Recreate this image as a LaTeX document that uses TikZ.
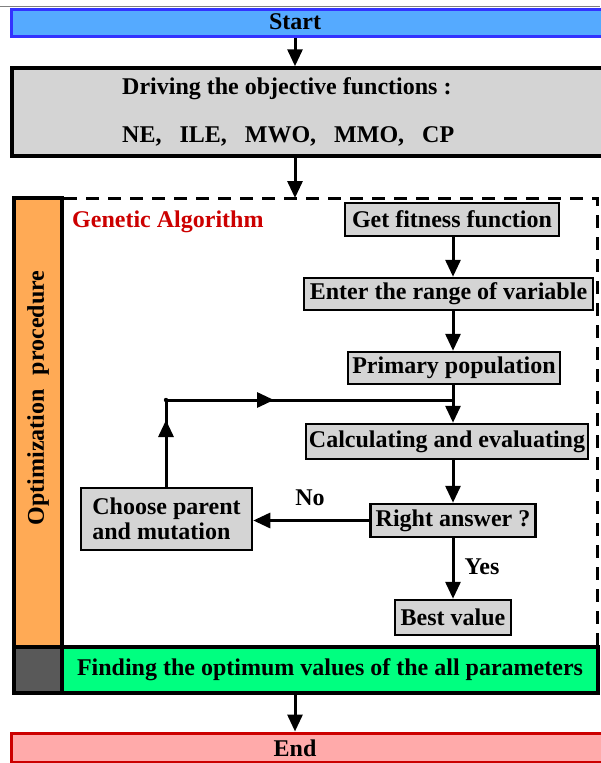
\documentclass[tikz,border=0pt]{standalone}
\usepackage{fontspec}
\setmainfont{Liberation Serif}
\usetikzlibrary{arrows.meta}
\definecolor{startfill}{HTML}{55AAFF}
\definecolor{startdraw}{HTML}{3333FF}
\definecolor{boxgray}{HTML}{D4D4D4}
\definecolor{optorange}{HTML}{FFAA55}
\definecolor{sqgray}{HTML}{595959}
\definecolor{findgreen}{HTML}{00FF80}
\definecolor{endfill}{HTML}{FFAAAA}
\definecolor{enddraw}{HTML}{CC0000}
\definecolor{garedtext}{HTML}{CC0000}
\begin{document}
\begin{tikzpicture}[x=1pt,y=-1pt,
  font=\fontsize{24}{25}\selectfont\bfseries,
  flow/.style={draw=black, line width=2.5pt, fill=boxgray, inner sep=0pt},
  bigbox/.style={draw=black, line width=3.5pt, inner sep=0pt},
  conn/.style={line width=3pt},
  arr/.style={line width=3pt, -{Triangle[length=17pt,width=15pt]}},
  lbl/.style={inner sep=0pt},
  ]
\useasboundingbox (0,0) rectangle (600,763);
\draw[gray, line width=1.5pt] (0,6.5) -- (600,6.5);

% Start
\node[draw=startdraw, fill=startfill, line width=3pt, inner sep=0pt,
  minimum width=595pt, minimum height=27pt, anchor=west] (start) at (10,22.5) {};
\node[lbl] (starttxt) at (295,22) {Start};

% Driving box
\node[bigbox, fill=boxgray, minimum width=595pt, minimum height=88pt, anchor=west] (drive) at (10,112) {};
\node[lbl, anchor=west] (drivetxt1) at (122,89) {Driving the objective functions :};
\node[lbl, anchor=west] (drivetxt2) at (122,136) {NE,\hspace{18pt}ILE,\hspace{18pt}MWO,\hspace{18pt}MMO,\hspace{18pt}CP};

% dashed GA frame
\coordinate (dtl) at (64,198);
\coordinate (dtr) at (597,198);
\coordinate (dbr) at (597,647);
\draw[line width=3pt, dash pattern=on 13pt off 9pt] (dtl) -- (dtr) -- (dbr);

\draw[arr] (starttxt |- start.south) -- (starttxt |- drive.north);
\draw[arr] (starttxt |- drive.south) -- (starttxt |- dtl);

% Optimization bar
\node[bigbox, fill=optorange, minimum width=48pt, minimum height=449pt] (opt) at (38,422.5) {};
\node[lbl, rotate=90] (opttxt) at (38,398) {Optimization\hspace{14pt}procedure};

% Bottom band
\node[bigbox, fill=sqgray, minimum width=48pt, minimum height=46pt] (sq) at (38,670) {};
\node[bigbox, fill=findgreen, minimum width=536pt, minimum height=46pt] (find) at (330,670) {};
\node[lbl] (findtxt) at (330,670) {Finding the optimum values of the all parameters};

% End
\node[draw=enddraw, fill=endfill, line width=3pt, inner sep=0pt,
  minimum width=595pt, minimum height=29pt, anchor=west] (endbox) at (10,747.5) {};
\node[lbl] (endtxt) at (295,748) {End};
\draw[arr] (starttxt |- find.south) -- (starttxt |- endbox.north);

% GA label
\node[lbl, anchor=west, text=garedtext] (gatxt) at (72,222) {Genetic Algorithm};

% Flow boxes
\node[flow, minimum width=214pt, minimum height=33pt] (gff) at (452,219.5) {Get fitness function};
\node[flow, minimum width=289pt, minimum height=32pt] (erv) at (448.5,294) {Enter the range of variable};
\node[flow, minimum width=212pt, minimum height=32pt] (pp) at (454,368) {Primary population};
\node[flow, minimum width=282pt, minimum height=35pt] (cae) at (447,441.5) {Calculating and evaluating};
\node[flow, minimum width=165pt, minimum height=33pt] (ra) at (453,520.5) {Right answer ?};
\node[flow, minimum width=116pt, minimum height=35pt] (bv) at (453,617.5) {Best value};
\node[flow, minimum width=171pt, minimum height=62pt, align=left] (cpm) at (166.5,519) {Choose parent\\and mutation};

\coordinate (col) at (453,0);
\draw[arr] (col |- gff.south) -- (col |- erv.north);
\draw[arr] (col |- erv.south) -- (col |- pp.north);
\draw[arr] (col |- pp.south) -- (col |- cae.north);
\draw[arr] (col |- cae.south) -- (col |- ra.north);
\draw[arr] (col |- ra.south) -- (col |- bv.north);

% feedback loop
\coordinate (j) at (166,400);
\coordinate (m) at (453,400);
\coordinate (uptip) at (166,420);
\coordinate (rttip) at (274,400);
\draw[conn] (cpm.north -| j) -- (j) -- (m);
\draw[arr] (cpm.north -| j) -- (uptip);
\draw[arr] (j) -- (rttip);
\fill (j) circle (2.2pt);

% No branch
\draw[arr] (ra.west) -- (ra.west -| cpm.east);
\node[lbl] (notxt) at (310,498) {No};
\node[lbl] (yestxt) at (482,567) {Yes};
\end{tikzpicture}
\end{document}
